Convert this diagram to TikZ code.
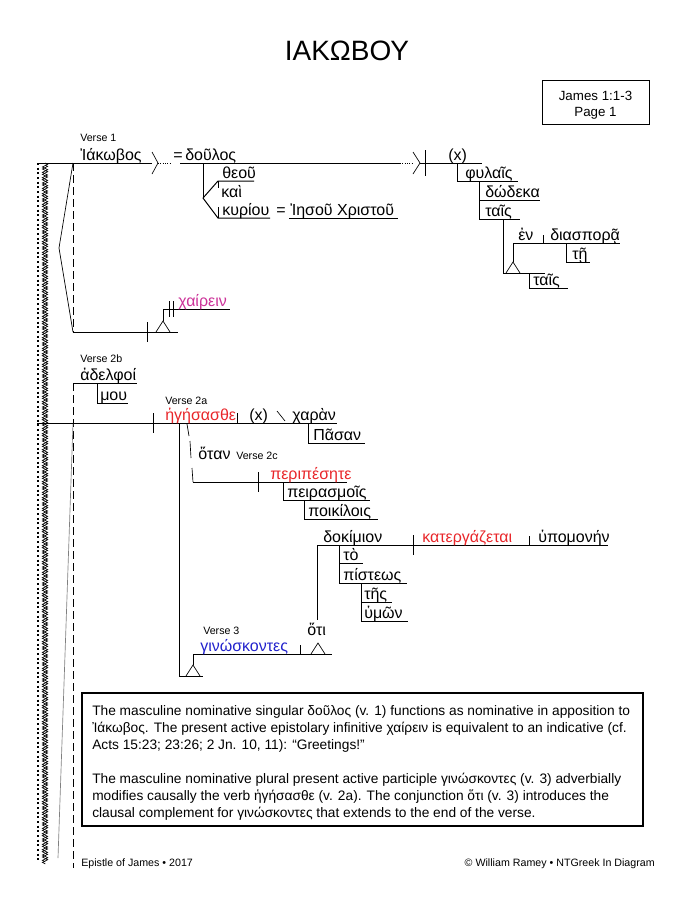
\documentclass[tikz,border=0pt]{standalone}
\usepackage{fontspec}
\setmainfont{Liberation Sans}
\newfontfamily\gk{Liberation Sans}
\usetikzlibrary{decorations.pathmorphing}

\definecolor{verbred}{RGB}{232,38,42}
\definecolor{infmag}{RGB}{204,51,153}
\definecolor{ptcblue}{RGB}{34,34,204}

\tikzset{
  word/.style={font=\gk\fontsize{12}{14}\selectfont, inner sep=0pt, anchor=base west},
  verse/.style={font=\fontsize{8}{10}\selectfont, inner sep=0pt, anchor=base west},
  base/.style={line width=0.75pt},
  hair/.style={line width=0.5pt},
  dashline/.style={line width=0.6pt, dash pattern=on 6pt off 3pt},
}
\newcommand{\pedestal}[2]{\draw[hair] (#1-7,#2) -- (#1,#2-11) -- (#1+7,#2);}

\begin{document}
\begin{tikzpicture}[x=0.75pt, y=-0.75pt]
\useasboundingbox (0,0) rectangle (692,897);

% heading
\node[font=\fontsize{21}{21}\selectfont, inner sep=0pt, anchor=base] (title) at (347,60) {ΙΑΚΩΒΟΥ};
\node[draw, line width=0.75pt, minimum width=80.25pt, minimum height=33pt, inner sep=0pt,
  align=center, font=\fontsize{10}{12}\selectfont] (pagebox) at (595.5,102) {};
\node[inner sep=0pt, align=center, font=\fontsize{10}{12}\selectfont] (pagetext) at (595.5,105) {James 1:1-3\\Page 1};

% left margin
\draw[line width=1.5pt, dash pattern=on 1.5pt off 2pt] (38,163) -- (38,862);
\draw[hair, decorate, decoration={zigzag, segment length=4, amplitude=2}] (45,163) -- (45,862);
\draw[hair, decorate, decoration={zigzag, segment length=4, amplitude=2}] (45,165) -- (45,864);

% verse 1
\node[verse] (v1) at (80,141) {Verse 1};
\node[word] (iakobos) at (80,160) {Ἰάκωβος};
\draw[base] (37,163) -- (152,163);
\draw[hair] (152,152) -- (158,163) -- (152,174);
\draw[base, densely dotted] (158,163) -- (172,163);
\node[word] (eq1) at (173,160) {=};
\node[word] (doulos) at (185,160) {δοῦλος};
\draw[base] (180,163) -- (400,163);
\draw[base, densely dotted] (400,163) -- (413,163);
\draw[hair] (413,152) -- (420,163) -- (413,174);
\draw[base] (425,150) -- (425,176);
\draw[base] (420,163) -- (482,163);
\node[word] (x1) at (448,160) {(x)};

\draw[base] (203,163) -- (203,198);
\draw[base] (203,198) -- (218,181) -- (254,181);
\draw[base] (203,198) -- (218,218) -- (270,218);
\draw[base] (218,181) -- (218,188);
\draw[base] (218,207) -- (218,218);
\node[word] (theou) at (222,178) {θεοῦ};
\node[word] (kai) at (221,197) {καὶ};
\node[word] (kuriou) at (222,215) {κυρίου};
\node[word] (eq2) at (276,215) {=};
\node[word] (iesou) at (290,215) {Ἰησοῦ Χριστοῦ};
\draw[base] (289,218) -- (398,218);

\draw[base] (457,163) -- (457,181) -- (518,181);
\node[word] (phulais) at (465,178) {φυλαῖς};
\draw[base] (479,181) -- (479,219);
\draw[base] (479,200) -- (540,200);
\node[word] (dodeka) at (485,197) {δώδεκα};
\draw[base] (479,219) -- (520,219);
\node[word] (tais1) at (485,216) {ταῖς};
\draw[base] (503,219) -- (503,273) -- (545,273);
\pedestal{513}{273}
\draw[base] (513,262) -- (513,243) -- (620,243);
\node[word] (en) at (518,240) {ἐν};
\draw[base] (543,235) -- (543,243);
\node[word] (diaspora) at (550,240) {διασπορᾷ};
\draw[base] (566,243) -- (566,262) -- (590,262);
\node[word] (te) at (572,259) {τῇ};
\draw[base] (529,273) -- (529,288) -- (568,288);
\node[word] (tais2) at (533,285) {ταῖς};

\draw[dashline] (73,163) -- (73,332);
\draw[hair] (73,163) -- (59,248) -- (73,332);
\draw[base] (73,332) -- (178,332);
\draw[base] (147,322) -- (147,342);
\pedestal{163}{332}
\draw[base] (163,321) -- (163,309) -- (230,309);
\draw[base] (169,301) -- (169,317);
\draw[base] (173,301) -- (173,317);
\node[word, text=infmag] (chairein) at (178,306) {χαίρειν};

% verse 2
\node[verse] (v2b) at (80,362) {Verse 2b};
\node[word] (adelphoi) at (80,380) {ἀδελφοί};
\draw[base] (73,383) -- (137,383);
\draw[base] (97,383) -- (97,403) -- (128,403);
\node[word] (mou) at (100,400) {μου};
\draw[dashline] (73,383) -- (73,868);
\draw[hair, gray] (73,423) -- (58,858);

\draw[base] (37,423) -- (337,423);
\draw[base] (153,413) -- (153,433);
\node[verse] (v2a) at (165,404) {Verse 2a};
\node[word, text=verbred] (hegesasthe) at (165,420) {ἡγήσασθε};
\draw[base] (237,413) -- (237,423);
\node[word] (x2) at (249,420) {(x)};
\draw[hair] (277,411) -- (285,421);
\node[word] (charan) at (292,420) {χαρὰν};
\draw[base] (308,423) -- (308,443) -- (365,443);
\node[word] (pasan) at (313,440) {Πᾶσαν};

\draw[hair] (187,424) -- (189,436);
\draw[hair] (190,441) -- (191,458);
\draw[hair] (192,468) -- (193,482);
\node[word] (hotan) at (198,459) {ὅταν};
\node[verse] (v2c) at (236,459) {Verse 2c};
\draw[base] (193,482) -- (347,482);
\draw[base] (258,472) -- (258,492);
\node[word, text=verbred] (peripesete) at (270,479) {περιπέσητε};
\draw[base] (283,482) -- (283,500) -- (370,500);
\node[word] (peirasmois) at (287,497) {πειρασμοῖς};
\draw[base] (304,500) -- (304,519) -- (378,519);
\node[word] (poikilois) at (308,516) {ποικίλοις};

% verse 3
\draw[base] (179,423) -- (179,676) -- (203,676);
\pedestal{193}{676}
\draw[base] (193,665) -- (193,654) -- (332,654);
\node[verse] (v3) at (203,634) {Verse 3};
\node[word, text=ptcblue] (ginoskontes) at (200,651) {γινώσκοντες};
\draw[base] (300,645) -- (300,654);
\pedestal{318}{654}
\node[word] (hoti) at (307,635) {ὅτι};
\draw[base] (317,545) -- (317,620);

\draw[base] (317,545) -- (608,545);
\node[word] (dokimion) at (323,542) {δοκίμιον};
\draw[base] (413,535) -- (413,555);
\node[word, text=verbred] (katergazetai) at (422,542) {κατεργάζεται};
\draw[base] (529,536) -- (529,545);
\node[word] (hupomonen) at (538,542) {ὑπομονήν};
\draw[base] (339,545) -- (339,583);
\draw[base] (339,563) -- (363,563);
\node[word] (to) at (343,560) {τὸ};
\draw[base] (339,583) -- (407,583);
\node[word] (pisteos) at (343,580) {πίστεως};
\draw[base] (361,583) -- (361,621);
\draw[base] (361,602) -- (392,602);
\node[word] (tes) at (364,599) {τῆς};
\draw[base] (361,621) -- (408,621);
\node[word] (humon) at (364,618) {ὑμῶν};

% notes
\draw[line width=0.9pt] (82,693) rectangle (643,826);
\node[inner sep=0pt, anchor=base west, align=left, font=\fontsize{10.3}{12.75}\selectfont] (notes) at (92,817) {%
The masculine nominative singular {\gk δοῦλος} (v. 1) functions as nominative in apposition to\\
{\gk Ἰάκωβος}. The present active epistolary infinitive {\gk χαίρειν} is equivalent to an indicative (cf.\\
Acts 15:23; 23:26; 2 Jn. 10, 11): “Greetings!”\\[12.75pt]
The masculine nominative plural present active participle {\gk γινώσκοντες} (v. 3) adverbially\\
modifies causally the verb {\gk ἡγήσασθε} (v. 2a). The conjunction {\gk ὅτι} (v. 3) introduces the\\
clausal complement for {\gk γινώσκοντες} that extends to the end of the verse.};

% footer
\node[verse] (footl) at (81,866) {Epistle of James • 2017};
\node[font=\fontsize{8}{10}\selectfont, inner sep=0pt, anchor=base east] (footr) at (655,866) {© William Ramey • NTGreek In Diagram};
\end{tikzpicture}
\end{document}
